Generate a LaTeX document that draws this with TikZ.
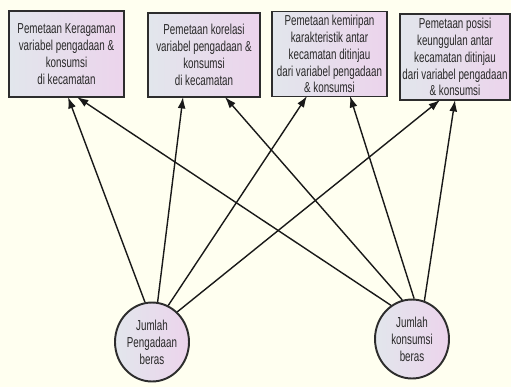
\documentclass[tikz,border=0pt]{standalone}
\usepackage{fontspec}
\setmainfont[FakeStretch=0.68]{Liberation Sans}
\usetikzlibrary{shapes.geometric,arrows.meta}
\definecolor{bgc}{RGB}{255,255,240}
\definecolor{lc}{RGB}{226,230,236}
\definecolor{rc}{RGB}{236,212,236}
\definecolor{edgec}{RGB}{45,45,45}
\definecolor{linec}{RGB}{25,25,25}
\definecolor{txtc}{RGB}{40,40,40}
\tikzset{
  boxnode/.style={draw=edgec, line width=1.1pt, left color=lc, right color=rc,
    align=center, inner sep=1pt, text=txtc,
    font=\fontsize{8.2}{9.6}\selectfont},
  blob/.style={ellipse, draw=edgec, line width=1.1pt, left color=lc, right color=rc,
    align=center, inner sep=0pt, minimum width=1.48cm, minimum height=1.58cm,
    text=txtc, font=\fontsize{8.2}{9.6}\selectfont},
  conn/.style={draw=linec, line width=0.8pt, -{Latex[length=6.5pt,width=4.5pt]}}
}
\begin{document}
\begin{tikzpicture}[x=0.02cm,y=-0.02cm]
\useasboundingbox[fill=bgc] (0,0) rectangle (511,387);
\node[boxnode, minimum width=2.3cm, minimum height=1.72cm] (b1) at (66.5,54)
  {Pemetaan Keragaman\\variabel pengadaan \&\\konsumsi\\di kecamatan};
\node[boxnode, minimum width=2.24cm, minimum height=1.68cm] (b2) at (204,55)
  {Pemetaan korelasi\\variabel pengadaan \&\\konsumsi\\di kecamatan};
\node[boxnode, minimum width=2.3cm, minimum height=1.7cm] (b3) at (329.5,54)
  {Pemetaan kemiripan\\karakteristik antar\\kecamatan ditinjau\\dari variabel pengadaan\\\& konsumsi};
\node[boxnode, minimum width=2.2cm, minimum height=1.72cm] (b4) at (455,57)
  {Pemetaan posisi\\keunggulan antar\\kecamatan ditinjau\\dari variabel pengadaan\\\& konsumsi};
\node[blob] (c1) at (152,342) {Jumlah\\Pengadaan\\beras};
\node[blob] (c2) at (412,339) {Jumlah\\konsumsi\\beras};
\coordinate (t11) at (68,97);
\coordinate (t21) at (77,97);
\coordinate (t12) at (183,97);
\coordinate (t22) at (225,97);
\coordinate (t13) at (307,96);
\coordinate (t23) at (350,96);
\coordinate (t14) at (440,100);
\coordinate (t24) at (455,100);
\draw[conn] (c1.100) -- (t11);
\draw[conn] (c1.82) -- (t12);
\draw[conn] (c1.66) -- (t13);
\draw[conn] (c1.50) -- (t14);
\draw[conn] (c2.122) -- (t21);
\draw[conn] (c2.104) -- (t22);
\draw[conn] (c2.87) -- (t23);
\draw[conn] (c2.72) -- (t24);
\end{tikzpicture}
\end{document}
